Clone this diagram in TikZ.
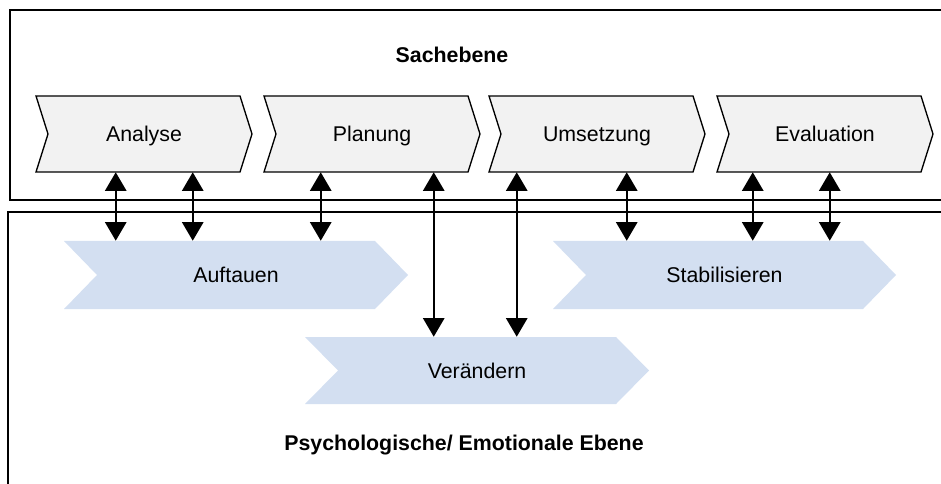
\documentclass[tikz,border=0pt]{standalone}
\usepackage{fontspec}
\setmainfont{Liberation Sans}
\usetikzlibrary{arrows.meta,calc}
\definecolor{chevgray}{HTML}{F2F2F2}
\definecolor{chevblue}{HTML}{D3DFF1}
\newcommand\mychev[8]{%
  \path[#7] (#2,#3) -- ++(#4-#6,0) -- ++(#6,#5/2) -- ++(-#6,#5/2) -- ++(-#4+#6,0) -- ++(#6,-#5/2) -- cycle;
  \node[chevtext, minimum width=#4*0.75pt, minimum height=#5*0.75pt] (#1) at (#2+#4/2,#3+#5/2) {#8};}
\tikzset{
  chevtext/.style={inner sep=0pt, text height=14.5pt, text depth=3pt, font=\fontsize{16}{19}\selectfont},
  graychev/.style={fill=chevgray, draw=black, line width=1pt, line join=miter},
  bluechev/.style={fill=chevblue},
  frame/.style={line width=1.2pt},
  dbl/.style={{Triangle[width=16pt,length=14pt]}-{Triangle[width=16pt,length=14pt]}, line width=1.4pt},
  title/.style={font=\bfseries\fontsize{16}{19}\selectfont}
}
\begin{document}
\begin{tikzpicture}[x=0.75pt,y=-0.75pt]
\useasboundingbox (0,0) rectangle (941,484);
\clip (0,0) rectangle (941,484);
% frames
\draw[frame] (950,10) -- (10,10) -- (10,200) -- (950,200);
\draw[frame] (950,212) -- (8,212) -- (8,495);
% titles
\node[title] (sach) at (452,55) {Sachebene};
\node[title] (psy) at (464,445) {Psychologische/ Emotionale Ebene};
% Sachebene chevrons
\mychev{ana}{36}{96}{216}{76}{12}{graychev}{Analyse}
\mychev{pla}{264}{96}{216}{76}{12}{graychev}{Planung}
\mychev{ums}{489}{96}{216}{76}{12}{graychev}{Umsetzung}
\mychev{eva}{717}{96}{216}{76}{12}{graychev}{Evaluation}
% psychological chevrons
\mychev{auf}{64}{241}{344}{68}{33}{bluechev}{Auftauen}
\mychev{ver}{305}{337}{344}{67}{33}{bluechev}{Verändern}
\mychev{sta}{553}{241}{343}{68}{33}{bluechev}{Stabilisieren}
% connectors
\draw[dbl] ($(ana.south west)+(80,0)$) coordinate (c1) -- (c1 |- auf.north);
\draw[dbl] ($(ana.south west)+(157,0)$) coordinate (c2) -- (c2 |- auf.north);
\draw[dbl] ($(pla.south west)+(57,0)$) coordinate (c3) -- (c3 |- auf.north);
\draw[dbl] ($(pla.south west)+(170,0)$) coordinate (c4) -- (c4 |- ver.north);
\draw[dbl] ($(ums.south west)+(28,0)$) coordinate (c5) -- (c5 |- ver.north);
\draw[dbl] ($(ums.south west)+(138,0)$) coordinate (c6) -- (c6 |- sta.north);
\draw[dbl] ($(eva.south west)+(36,0)$) coordinate (c7) -- (c7 |- sta.north);
\draw[dbl] ($(eva.south west)+(113,0)$) coordinate (c8) -- (c8 |- sta.north);
\end{tikzpicture}
\end{document}
